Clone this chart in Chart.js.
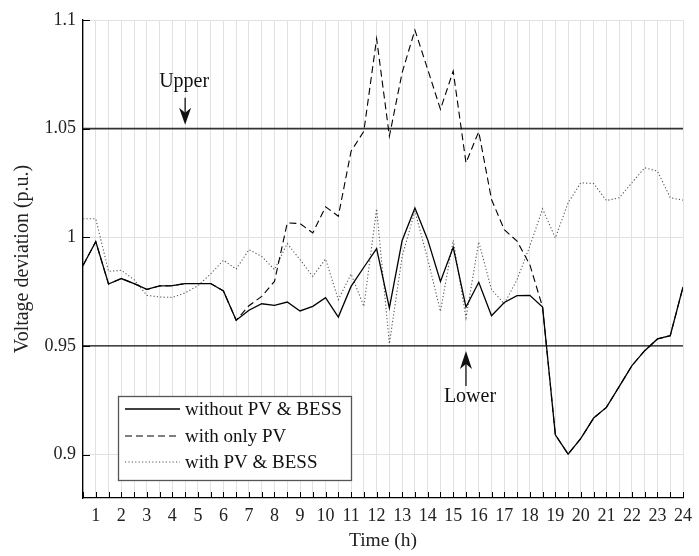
<!DOCTYPE html>
<html><head><meta charset="utf-8">
<script src="https://cdn.jsdelivr.net/npm/chart.js@4.4.1/dist/chart.umd.min.js"></script>
<style>html,body{margin:0;padding:0;background:#fff}#wrap{width:699px;height:556px}</style>
</head><body><div id="wrap"><canvas id="c" width="699" height="556"></canvas></div>
<script>
const hours = [0.5,1,1.5,2,2.5,3,3.5,4,4.5,5,5.5,6,6.5,7,7.5,8,8.5,9,9.5,10,10.5,11,11.5,12,12.5,13,13.5,14,14.5,15,15.5,16,16.5,17,17.5,18,18.5,19,19.5,20,20.5,21,21.5,22,22.5,23,23.5,24];
const withoutPVBESS = [0.987,0.998,0.9785,0.981,0.9787,0.976,0.9776,0.9777,0.9787,0.9787,0.9787,0.9753,0.9618,0.9664,0.9694,0.9687,0.9702,0.9661,0.9682,0.9722,0.9633,0.9774,0.9862,0.9948,0.9675,0.9985,1.0135,0.9989,0.9797,0.9954,0.9679,0.9793,0.9639,0.9700,0.9731,0.9733,0.9679,0.9091,0.9002,0.9074,0.9168,0.9217,0.9313,0.9409,0.9478,0.9532,0.9547,0.9771];
const withOnlyPV = [0.987,0.998,0.9785,0.981,0.9787,0.976,0.9776,0.9777,0.9787,0.9787,0.9787,0.9753,0.9618,0.9685,0.9728,0.9797,1.0066,1.0063,1.002,1.014,1.0097,1.0396,1.0488,1.0914,1.0465,1.0758,1.0954,1.0773,1.0589,1.0765,1.0343,1.0486,1.0174,1.0035,0.9982,0.9874,0.9679,0.9091,0.9002,0.9074,0.9168,0.9217,0.9313,0.9409,0.9478,0.9532,0.9547,0.9771];
const withPVBESS = [1.0085,1.0085,0.9843,0.9848,0.9805,0.9733,0.9725,0.9723,0.9744,0.9777,0.9831,0.9894,0.9854,0.9943,0.9912,0.9851,0.9971,0.9897,0.982,0.990,0.9713,0.9831,0.9682,1.0131,0.951,0.9912,1.012,0.990,0.9659,0.9986,0.9629,0.9979,0.9759,0.9694,0.9805,0.9959,1.0131,0.9997,1.0159,1.0251,1.0247,1.0169,1.0182,1.0251,1.032,1.0304,1.0182,1.0171];
const seriesNames = ['without PV & BESS','with only PV','with PV & BESS'];
const yTickValues = [0.9,0.95,1,1.05,1.1];
const xTickLabels = [1,2,3,4,5,6,7,8,9,10,11,12,13,14,15,16,17,18,19,20,21,22,23,24];
const upperLimit = [1.05,1.05];
const lowerLimit = [0.95,0.95];
const limitHours = [0.5,24];
const annotations = [{text:'Upper', x:4.5, y:1.05, dir:'down'},{text:'Lower', x:15.5, y:0.95, dir:'up'}];

const FONT = "'Liberation Serif', serif";
const toXY = (xs, ys) => xs.map((x,i)=>({x:x, y:ys[i]}));

const styles = [
  {borderColor:'#000', borderWidth:1.3, borderDash:[]},
  {borderColor:'#000', borderWidth:1.1, borderDash:[7,4]},
  {borderColor:'#555', borderWidth:1.1, borderDash:[1.2,2.2]}
];

const extras = {
  id:'extras',
  afterDraw(chart){
    const ctx = chart.ctx, xs = chart.scales.x, ys = chart.scales.y, a = chart.chartArea;
    ctx.save();
    ctx.strokeStyle = '#000'; ctx.lineWidth = 1;
    hours.forEach(h=>{ const px = Math.round(xs.getPixelForValue(h))+0.5; ctx.beginPath(); ctx.moveTo(px,a.bottom); ctx.lineTo(px,a.bottom-6); ctx.stroke(); });
    yTickValues.forEach(v=>{ const py = Math.round(ys.getPixelForValue(v))+0.5; ctx.beginPath(); ctx.moveTo(a.left,py); ctx.lineTo(a.left+7,py); ctx.stroke(); });
    ctx.font = "20px " + FONT; ctx.fillStyle = '#111'; ctx.textAlign = 'center'; ctx.textBaseline='middle';
    annotations.forEach(an=>{
      const px = xs.getPixelForValue(an.x), py = ys.getPixelForValue(an.y);
      ctx.strokeStyle='#000'; ctx.lineWidth=1.2;
      if(an.dir==='down'){
        const tip = py-4;
        ctx.beginPath(); ctx.moveTo(px,tip-27); ctx.lineTo(px,tip-8); ctx.stroke();
        ctx.beginPath(); ctx.moveTo(px,tip); ctx.lineTo(px-6,tip-17); ctx.lineTo(px,tip-12); ctx.lineTo(px+6,tip-17); ctx.closePath(); ctx.fill();
        ctx.fillText(an.text, px-1, tip-43);
      } else {
        const tip = py+5;
        ctx.beginPath(); ctx.moveTo(px,tip+35); ctx.lineTo(px,tip+8); ctx.stroke();
        ctx.beginPath(); ctx.moveTo(px,tip); ctx.lineTo(px-6,tip+18); ctx.lineTo(px,tip+13); ctx.lineTo(px+6,tip+18); ctx.closePath(); ctx.fill();
        ctx.fillText(an.text, px+4, tip+46);
      }
    });
    const bx = 118.5, by = 396.5, bw = 233, bh = 84;
    ctx.fillStyle='#fff'; ctx.fillRect(bx,by,bw,bh);
    ctx.strokeStyle='#555'; ctx.lineWidth=1.3; ctx.strokeRect(bx,by,bw,bh);
    ctx.font = "19px " + FONT;
    ctx.textAlign='left'; ctx.textBaseline='middle'; ctx.fillStyle='#111';
    const rows=[409,436,462];
    chart.data.datasets.slice(0,3).forEach((ds,i)=>{
      ctx.strokeStyle=ds.borderColor; ctx.lineWidth=ds.borderWidth; ctx.setLineDash(ds.borderDash||[]);
      ctx.beginPath(); ctx.moveTo(125,rows[i]); ctx.lineTo(180,rows[i]); ctx.stroke();
      ctx.setLineDash([]);
      ctx.fillText(ds.label, 185, rows[i]+1);
    });
    ctx.restore();
  }
};

new Chart(document.getElementById('c'), {
  type:'line',
  data:{
    datasets:[
      {label:seriesNames[0], data:toXY(hours,withoutPVBESS), ...styles[0], pointRadius:0, tension:0, fill:false},
      {label:seriesNames[1], data:toXY(hours,withOnlyPV), ...styles[1], pointRadius:0, tension:0, fill:false},
      {label:seriesNames[2], data:toXY(hours,withPVBESS), ...styles[2], pointRadius:0, tension:0, fill:false},
      {label:'upper', data:toXY(limitHours,upperLimit), borderColor:'#333', borderWidth:1.6, pointRadius:0, fill:false},
      {label:'lower', data:toXY(limitHours,lowerLimit), borderColor:'#111', borderWidth:1.4, pointRadius:0, fill:false}
    ]
  },
  options:{
    responsive:false, animation:false, devicePixelRatio:1,
    layout:{padding:{top:20,right:10,left:0,bottom:0}},
    plugins:{legend:{display:false}, tooltip:{enabled:false}},
    scales:{
      x:{type:'linear', min:0.5, max:24,
        afterBuildTicks(s){ s.ticks = hours.map(v=>({value:v})); },
        afterFit(s){ s.height = 58; },
        ticks:{autoSkip:false, maxRotation:0, padding:7, color:'#222', font:{family:FONT, size:18},
          callback(v){ return xTickLabels.includes(v) ? String(v) : ''; }},
        grid:{color:'#e2e2e2', lineWidth:1, drawTicks:false},
        border:{color:'#000', width:1.3},
        title:{display:true, text:'Time (h)', color:'#222', font:{family:FONT, size:19.5}, padding:{bottom:3,top:0}}
      },
      y:{type:'linear', min:0.88, max:1.1,
        afterBuildTicks(s){ s.ticks = yTickValues.map(v=>({value:v})); },
        afterFit(s){ s.width = 83; },
        ticks:{padding:7, color:'#222', font:{family:FONT, size:18}, callback(v){ return String(v); }},
        grid:{color:'#e2e2e2', lineWidth:1, drawTicks:false},
        border:{color:'#000', width:1.3},
        title:{display:true, text:'Voltage deviation (p.u.)', color:'#222', font:{family:FONT, size:20}, padding:{top:11,bottom:0}}
      }
    }
  },
  plugins:[extras]
});
</script></body></html>
